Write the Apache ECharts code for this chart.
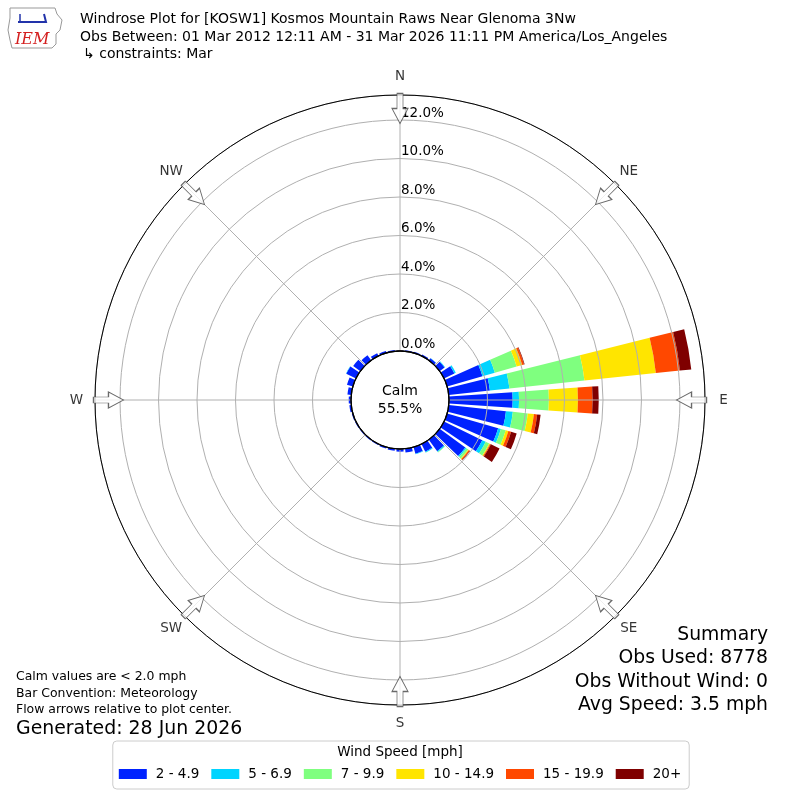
<!DOCTYPE html>
<html><head><meta charset="utf-8">
<script src="https://cdn.jsdelivr.net/npm/echarts@6/dist/echarts.min.js"></script>
<style>html,body{margin:0;padding:0;background:#fff}#c{width:800px;height:800px}</style>
</head><body><div id="c"></div>
<script>
// ---- data ----
const directions = [0,10,20,30,40,50,60,70,80,90,100,110,120,130,140,150,160,170,
                    180,190,200,210,220,230,240,250,260,270,280,290,300,310,320,330,340,350];
const speedBins = ['2 - 4.9','5 - 6.9','7 - 9.9','10 - 14.9','15 - 19.9','20+'];
const binColors = ['#0022ff','#00d4ff','#7fff7f','#ffe500','#ff4800','#7f0000'];
// percent of observations, per direction (0..350 step 10)
const speed2to5   = [0.05,0.05,0.06,0.08,0.14,0.32,0.60,1.91,2.15,3.31,2.99,2.76,2.21,1.65,0.74,0.45,0.36,0.20,
                     0.14,0.10,0.08,0.06,0.05,0.05,0.05,0.06,0.10,0.12,0.20,0.32,0.56,0.46,0.33,0.16,0.10,0.06];
const speed5to7   = [0,0,0,0,0.01,0.03,0.08,0.67,1.02,0.33,0.36,0.15,0.20,0.07,0.05,0.04,0.03,0,
                     0,0,0,0,0,0,0,0,0,0,0,0,0.02,0,0,0,0,0];
const speed7to10  = [0,0,0,0,0,0,0,1.18,3.92,1.55,0.78,0.26,0.20,0.12,0.03,0.01,0,0,
                     0,0,0,0,0,0,0,0,0,0,0,0,0,0,0,0,0,0];
const speed10to15 = [0,0,0,0,0,0,0,0.30,3.73,1.51,0.32,0.14,0.05,0.04,0,0,0,0,
                     0,0,0,0,0,0,0,0,0,0,0,0,0,0,0,0,0,0];
const speed15to20 = [0,0,0,0,0,0,0,0.10,1.26,0.76,0.17,0.15,0.05,0.06,0,0,0,0,
                     0,0,0,0,0,0,0,0,0,0,0,0,0,0,0,0,0,0];
const speed20plus = [0,0,0,0,0,0,0,0.03,0.59,0.32,0.18,0.30,0.50,0.02,0,0,0,0,
                     0,0,0,0,0,0,0,0,0,0,0,0,0,0,0,0,0,0];
const binData = [speed2to5,speed5to7,speed7to10,speed10to15,speed15to20,speed20plus];
const calmPct = 55.5;
const radialMax = 13.3;
const radialInterval = 2;
const compassAngles = [0,45,90,135,180,225,270,315];
const compassNames  = ['N','NE','E','SE','S','SW','W','NW'];
const titleLines = ['Windrose Plot for [KOSW1] Kosmos Mountain Raws Near Glenoma 3Nw',
                    'Obs Between: 01 Mar 2012 12:11 AM - 31 Mar 2026 11:11 PM America/Los_Angeles',
                    '\u21b3 constraints: Mar'];
const noteLines = ['Calm values are < 2.0 mph','Bar Convention: Meteorology','Flow arrows relative to plot center.'];
const generatedText = 'Generated: 28 Jun 2026';
const summaryLines = ['Summary','Obs Used: 8778','Obs Without Wind: 0','Avg Speed: 3.5 mph'];

// ---- chart ----
const FONT = 'DejaVu Sans';
const chart = echarts.init(document.getElementById('c'), null, {renderer:'canvas'});
const CENTER = [400, 400];
const RAD = [49, 305];
const arrowPath = 'path://M5,0 L11,0 L11,15 L16,15 L8,30 L0,15 L5,15 Z';
const LABEL_DIST = 32; // px from arrow centre outward to the direction label

const series = speedBins.map((name, i) => ({
  type: 'bar', name, coordinateSystem: 'polar', polarIndex: 1, stack: 'wind',
  data: binData[i], barCategoryGap: '20%', itemStyle: {color: binColors[i]}, z: 2, silent: true
}));
// hollow flow arrows on the outer ring, carrying the compass labels
series.push({
  type: 'scatter', coordinateSystem: 'polar', polarIndex: 0, silent: true, z: 20,
  symbol: arrowPath, symbolSize: [16, 30],
  itemStyle: {color: '#fff', borderColor: '#444', borderWidth: 1},
  data: compassAngles.map((a, k) => {
    const rad = a * Math.PI / 180;
    return {
      value: [radialMax - 0.7, a], symbolRotate: -a,
      label: {show: true, position: 'inside', formatter: compassNames[k],
        offset: [Math.sin(rad) * LABEL_DIST, -Math.cos(rad) * LABEL_DIST],
        color: '#000', fontFamily: FONT, fontSize: 13.5}
    };
  })
});

const graphics = [];
titleLines.forEach((t, i) => graphics.push({type:'text', x: i === 2 ? 83 : 80, y: [19, 37.5, 54.5][i],
  style:{text:t, font:'14px "DejaVu Sans"', fill:'#000', verticalAlign:'middle'}}));
noteLines.forEach((t, i) => graphics.push({type:'text', x: 16, y: 677 + i*16.5,
  style:{text:t, font:'12.45px "DejaVu Sans"', fill:'#000', verticalAlign:'middle'}}));
graphics.push({type:'text', x:16, y:729, style:{text:generatedText, font:'18.9px "DejaVu Sans"', fill:'#000', verticalAlign:'middle'}});
summaryLines.forEach((t, i) => graphics.push({type:'text', x: 768, y: 635 + i*23.5,
  style:{text:t, font:'18.8px "DejaVu Sans"', fill:'#000', align:'right', verticalAlign:'middle'}}));
graphics.push({type:'text', x:400, y:400, z:30, style:{text:'Calm\n' + calmPct.toFixed(1) + '%',
  font:'14px "DejaVu Sans"', lineHeight:18, fill:'#000', align:'center', verticalAlign:'middle'}});
graphics.push({type:'text', x:400, y:752, style:{text:'Wind Speed [mph]', font:'13.5px "DejaVu Sans"', fill:'#000', align:'center', verticalAlign:'middle'}});
// logo
graphics.push({type:'group', children:[
  {type:'polygon', shape:{points:[[10,8],[55,8],[57,14],[62,20],[60,30],[56,34],[56,44],[52,48],[12,48],[10,40],[8,30],[10,18]]},
   style:{fill:'#fff', stroke:'#999', lineWidth:1}},
  {type:'polyline', shape:{points:[[18,22],[46,22],[44,14]]}, style:{stroke:'#2233aa', lineWidth:2, fill:null}},
  {type:'polyline', shape:{points:[[20,14],[20,22]]}, style:{stroke:'#2233aa', lineWidth:1.5, fill:null}},
  {type:'text', x:15, y:32, style:{text:'IEM', font:'italic 16px "DejaVu Serif"', fill:'#d42020'}}
]});

chart.setOption({
  backgroundColor: '#fff',
  animation: false,
  textStyle: {fontFamily: FONT},
  polar: [
    {center: CENTER, radius: RAD},
    {center: CENTER, radius: RAD},
    {center: CENTER, radius: RAD[0]}
  ],
  angleAxis: [
    {polarIndex: 0, type: 'value', min: 0, max: 360, interval: 45, startAngle: 90, clockwise: true, z: 5,
     axisLine: {show: true, lineStyle: {color: '#000', width: 1}},
     axisTick: {show: false},
     splitLine: {show: true, lineStyle: {color: '#b0b0b0', width: 1}},
     axisLabel: {show: false}},
    {polarIndex: 1, type: 'category', data: directions, startAngle: 95, clockwise: true,
     axisLine: {show: false}, axisTick: {show: false}, axisLabel: {show: false}, splitLine: {show: false}},
    {polarIndex: 2, type: 'value', min: 0, max: 360, startAngle: 90, z: 10,
     axisLine: {show: true, lineStyle: {color: '#000', width: 1.3}},
     axisTick: {show: false}, axisLabel: {show: false}, splitLine: {show: false}}
  ],
  radiusAxis: [
    {polarIndex: 0, type: 'value', min: 0, max: radialMax, interval: radialInterval, z: 5,
     axisLine: {show: false}, axisTick: {show: false},
     splitLine: {show: true, lineStyle: {color: '#b0b0b0', width: 1}},
     axisLabel: {show: true, margin: -1, align: 'left', verticalAlign: 'bottom', padding: [0,0,0,0],
       fontFamily: FONT, fontSize: 13.5, color: '#000',
       formatter: v => (Math.abs(v % radialInterval) < 1e-9 ? v.toFixed(1) + '%' : '')}},
    {polarIndex: 1, type: 'value', min: 0, max: radialMax, show: false},
    {polarIndex: 2, type: 'value', min: 0, max: 1, show: false}
  ],
  legend: {
    data: speedBins, left: 'center', top: 741, icon: 'rect', itemWidth: 28, itemHeight: 10, itemGap: 12,
    padding: [26, 8, 8, 6], borderColor: '#ccc', borderWidth: 1, borderRadius: 4,
    textStyle: {fontFamily: FONT, fontSize: 13.5, color: '#000', padding: [0,0,0,4]},
    selectedMode: false
  },
  graphic: graphics,
  series
});
</script></body></html>
